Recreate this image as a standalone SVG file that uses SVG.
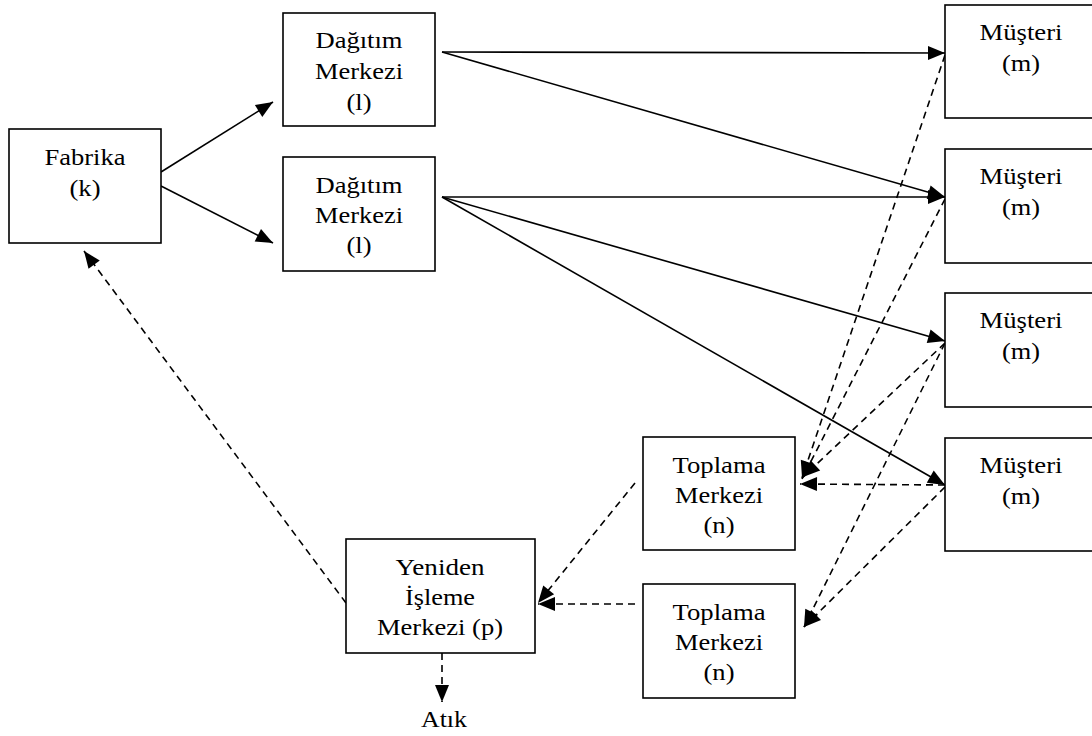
<svg xmlns="http://www.w3.org/2000/svg" width="1092" height="736" viewBox="0 0 1092 736">
<style>
.box{fill:#fff;stroke:#000;stroke-width:1.6}
.c{fill:none;stroke:#000;stroke-width:1.6}
.d{stroke-dasharray:7 5}
</style>
<defs>
<marker id="ah" markerUnits="userSpaceOnUse" markerWidth="18" markerHeight="14" refX="17" refY="7" orient="auto" overflow="visible">
<path d="M0,0 L17,7 L0,14 z" fill="#000" stroke="none"/>
</marker>
</defs>
<rect width="1092" height="736" fill="#fff"/>
<g id="connectors">
<line class="c" x1="161" y1="172" x2="273" y2="102" marker-end="url(#ah)"/>
<line class="c" x1="161" y1="186" x2="273" y2="243" marker-end="url(#ah)"/>
<line class="c" x1="442" y1="52" x2="945" y2="53" marker-end="url(#ah)"/>
<line class="c" x1="442" y1="52" x2="945" y2="197" marker-end="url(#ah)"/>
<line class="c" x1="442" y1="197" x2="945" y2="197" marker-end="url(#ah)"/>
<line class="c" x1="442" y1="197" x2="945" y2="341" marker-end="url(#ah)"/>
<line class="c" x1="442" y1="197" x2="945" y2="485" marker-end="url(#ah)"/>
<line class="c d" x1="945" y1="55" x2="802" y2="478" marker-end="url(#ah)"/>
<line class="c d" x1="945" y1="199" x2="802" y2="479" marker-end="url(#ah)"/>
<line class="c d" x1="945" y1="343" x2="803" y2="477" marker-end="url(#ah)"/>
<line class="c d" x1="945" y1="485" x2="800" y2="484" marker-end="url(#ah)"/>
<line class="c d" x1="945" y1="343" x2="804" y2="627" marker-end="url(#ah)"/>
<line class="c d" x1="945" y1="487" x2="804" y2="627" marker-end="url(#ah)"/>
<line class="c d" x1="635" y1="483" x2="538" y2="603" marker-end="url(#ah)"/>
<line class="c d" x1="635" y1="604" x2="538" y2="604" marker-end="url(#ah)"/>
<line class="c d" x1="346" y1="603" x2="84" y2="251" marker-end="url(#ah)"/>
<line class="c d" x1="442" y1="653" x2="442" y2="702" marker-end="url(#ah)"/>
</g>
<g font-family="Liberation Serif, Times New Roman, serif" font-size="24" fill="#000" text-anchor="middle">
<g id="fabrika">
<rect class="box" x="9" y="129" width="152" height="114"/>
<text x="85" y="165" textLength="81" lengthAdjust="spacingAndGlyphs">Fabrika</text>
<text x="85" y="196" textLength="31" lengthAdjust="spacingAndGlyphs">(k)</text>
</g>
<g id="dagitim1">
<rect class="box" x="283" y="13" width="152" height="113"/>
<text x="359" y="48" textLength="87" lengthAdjust="spacingAndGlyphs">Dağıtım</text>
<text x="359" y="79" textLength="88" lengthAdjust="spacingAndGlyphs">Merkezi</text>
<text x="359" y="110" textLength="25" lengthAdjust="spacingAndGlyphs">(l)</text>
</g>
<g id="dagitim2">
<rect class="box" x="283" y="157" width="152" height="114"/>
<text x="359" y="193" textLength="87" lengthAdjust="spacingAndGlyphs">Dağıtım</text>
<text x="359" y="223" textLength="88" lengthAdjust="spacingAndGlyphs">Merkezi</text>
<text x="359" y="253" textLength="25" lengthAdjust="spacingAndGlyphs">(l)</text>
</g>
<g id="musteri1">
<rect class="box" x="945" y="5" width="152" height="113"/>
<text x="1021" y="40" textLength="83" lengthAdjust="spacingAndGlyphs">Müşteri</text>
<text x="1021" y="71" textLength="38" lengthAdjust="spacingAndGlyphs">(m)</text>
</g>
<g id="musteri2">
<rect class="box" x="945" y="149" width="152" height="114"/>
<text x="1021" y="184" textLength="83" lengthAdjust="spacingAndGlyphs">Müşteri</text>
<text x="1021" y="215" textLength="38" lengthAdjust="spacingAndGlyphs">(m)</text>
</g>
<g id="musteri3">
<rect class="box" x="945" y="293" width="152" height="114"/>
<text x="1021" y="328" textLength="83" lengthAdjust="spacingAndGlyphs">Müşteri</text>
<text x="1021" y="359" textLength="38" lengthAdjust="spacingAndGlyphs">(m)</text>
</g>
<g id="musteri4">
<rect class="box" x="945" y="438" width="152" height="113"/>
<text x="1021" y="473" textLength="83" lengthAdjust="spacingAndGlyphs">Müşteri</text>
<text x="1021" y="504" textLength="38" lengthAdjust="spacingAndGlyphs">(m)</text>
</g>
<g id="toplama1">
<rect class="box" x="643" y="437" width="152" height="113"/>
<text x="719" y="473" textLength="93" lengthAdjust="spacingAndGlyphs">Toplama</text>
<text x="719" y="503" textLength="88" lengthAdjust="spacingAndGlyphs">Merkezi</text>
<text x="719" y="533" textLength="31" lengthAdjust="spacingAndGlyphs">(n)</text>
</g>
<g id="toplama2">
<rect class="box" x="643" y="584" width="152" height="114"/>
<text x="719" y="620" textLength="93" lengthAdjust="spacingAndGlyphs">Toplama</text>
<text x="719" y="650" textLength="88" lengthAdjust="spacingAndGlyphs">Merkezi</text>
<text x="719" y="680" textLength="31" lengthAdjust="spacingAndGlyphs">(n)</text>
</g>
<g id="yeniden">
<rect class="box" x="346" y="539" width="189" height="114"/>
<text x="440" y="575" textLength="89" lengthAdjust="spacingAndGlyphs">Yeniden</text>
<text x="440" y="605" textLength="70" lengthAdjust="spacingAndGlyphs">İşleme</text>
<text x="440" y="635" textLength="126" lengthAdjust="spacingAndGlyphs">Merkezi (p)</text>
</g>
<g id="atik">
<text x="444" y="727" textLength="46" lengthAdjust="spacingAndGlyphs">Atık</text>
</g>
</g>
</svg>
